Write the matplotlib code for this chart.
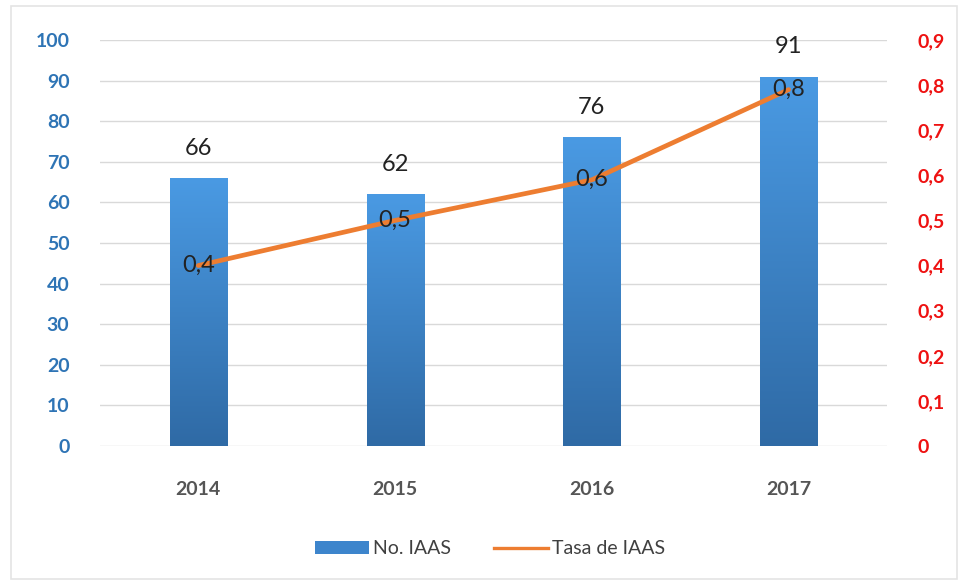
import matplotlib
matplotlib.use("Agg")
import matplotlib.pyplot as plt
import numpy as np
from matplotlib.colors import LinearSegmentedColormap
from matplotlib.patches import Rectangle
from matplotlib.lines import Line2D
from matplotlib.patches import Patch

years = ["2014", "2015", "2016", "2017"]
iaas_count = [66, 62, 76, 91]
iaas_rate = [0.40, 0.50, 0.59, 0.79]
left_ticks = list(range(0, 101, 10))
right_ticks = [0, 0.1, 0.2, 0.3, 0.4, 0.5, 0.6, 0.7, 0.8, 0.9]

plt.rcParams['font.family'] = ['Lato', 'DejaVu Sans']

fig = plt.figure(figsize=(9.61, 5.82), dpi=100)
fig.patch.set_facecolor("white")
fig.patches.append(Rectangle((0.011, 0.005), 0.985, 0.985, transform=fig.transFigure,
                             fill=False, edgecolor="#e4e4e4", linewidth=1.2))

ax = fig.add_axes([0.104, 0.2337, 0.819, 0.6976])
x = np.arange(len(years))
bars = ax.bar(x, iaas_count, width=0.29, color="#3d85cc", zorder=2)
cmap = LinearSegmentedColormap.from_list("g", ["#2f6aa5", "#4a9ae3"])
grad = np.linspace(0, 1, 256).reshape(-1, 1)
for b in bars:
    bx, by = b.get_x(), b.get_y()
    w, h = b.get_width(), b.get_height()
    im = ax.imshow(grad, cmap=cmap, aspect="auto", origin="lower",
                   extent=(bx, bx + w, by, by + h), zorder=2.1)
    im.set_clip_path(b)

ax.set_xlim(-0.5, len(years) - 0.5)
ax.set_ylim(0, 100)
ax.set_yticks(left_ticks)
ax.set_xticks(x)
ax.set_xticklabels(years)
ax.grid(axis="y", color="#d9d9d9", linewidth=1, zorder=0)
ax.set_axisbelow(True)
for s in ax.spines.values():
    s.set_visible(False)
ax.tick_params(axis="y", length=0, pad=22, labelsize=14, labelcolor="#2e74b5")
ax.tick_params(axis="x", length=0, pad=25, labelsize=14, labelcolor="#555555")
for lbl in ax.get_yticklabels() + ax.get_xticklabels():
    lbl.set_fontweight("bold")

for xi, v in zip(x, iaas_count):
    ax.annotate(str(v), (xi, v), xytext=(0, 14), textcoords="offset points",
                ha="center", va="bottom", fontsize=17, color="#222222", zorder=5)

ax2 = ax.twinx()
ax2.set_ylim(0, 0.9)
ax2.set_yticks(right_ticks)
ax2.set_yticklabels(["0" if t == 0 else f"{t:.1f}".replace(".", ",") for t in right_ticks])
for s in ax2.spines.values():
    s.set_visible(False)
ax2.tick_params(axis="y", length=0, pad=22, labelsize=14, labelcolor="#ee1111")
for lbl in ax2.get_yticklabels():
    lbl.set_fontweight("bold")
ax2.plot(x, iaas_rate, color="#ed7d31", linewidth=3.4, zorder=3, solid_capstyle="round")
for xi, v in zip(x, iaas_rate):
    ax2.text(xi, v, f"{v:.1f}".replace(".", ","), ha="center", va="center",
             fontsize=17, color="#222222", zorder=5)

handles = [Patch(facecolor="#3d85cc", edgecolor="none"),
           Line2D([0], [0], color="#ed7d31", linewidth=2.4)]
fig.legend(handles, ["No. IAAS", "Tasa de IAAS"], loc="center",
           bbox_to_anchor=(0.51, 0.057), ncol=2, frameon=False, fontsize=14,
           handlelength=2.8, handleheight=0.6, handletextpad=0.2, columnspacing=2.2,
           labelcolor="#404040")

fig.savefig("out.png", dpi=100, facecolor="white")
